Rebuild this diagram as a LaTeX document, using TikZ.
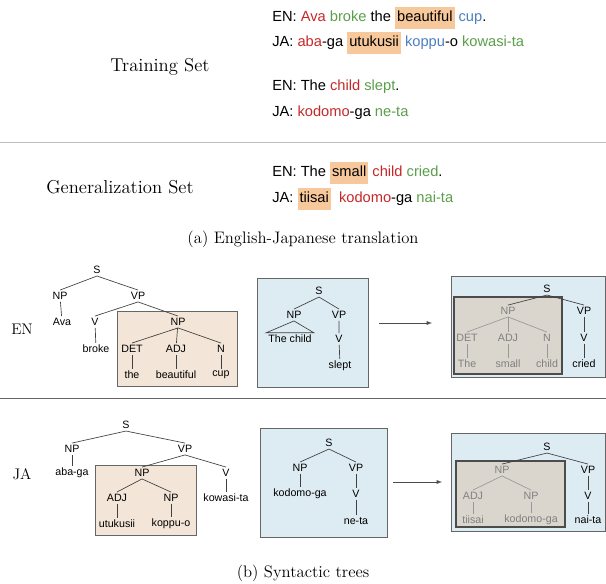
\documentclass[tikz,border=0pt]{standalone}
\usepackage{fontspec}
\setsansfont{Liberation Sans}
\usepackage{xcolor}
\usetikzlibrary{positioning}
\definecolor{wred}{HTML}{C62828}
\definecolor{wgreen}{HTML}{5A9E4A}
\definecolor{wblue}{HTML}{4A7FC0}
\definecolor{hl}{HTML}{F6C89B}
\definecolor{tan}{HTML}{F3E6D8}
\definecolor{sky}{HTML}{DDEBF2}
\definecolor{dusk}{HTML}{DAD6CE}
\newcommand{\R}[1]{\textcolor{wred}{#1}}
\newcommand{\G}[1]{\textcolor{wgreen}{#1}}
\newcommand{\B}[1]{\textcolor{wblue}{#1}}
\newcommand{\HL}[1]{{\setlength{\fboxsep}{1.5pt}\colorbox{hl}{\strut #1}}}
\begin{document}
\begin{tikzpicture}[x=0.75pt, y=-0.75pt,
    tl/.style={font=\sffamily\fontsize{8}{9}\selectfont, inner sep=1.5pt},
    gt/.style={tl, text=gray},
    edge/.style={draw=black!75, line width=0.5pt},
    gedge/.style={draw=gray!80, line width=0.5pt},
    sent/.style={anchor=west, font=\sffamily\fontsize{11}{13}\selectfont, inner sep=0pt},
    setname/.style={font=\fontsize{14}{16}\selectfont},
    box/.style={draw=black!60, line width=0.5pt}]
  \useasboundingbox (0,0) rectangle (606,584);
  % sentences
  \node[setname] (train) at (160,67) {Training Set};
  \node[sent] (en1) at (272,18) {EN: \R{Ava} \G{broke} the \HL{beautiful} \B{cup}.};
  \node[sent] (ja1) at (272,43) {JA: \R{aba}-ga \HL{utukusii} \B{koppu}-o \G{kowasi-ta}};
  \node[sent] (en2) at (272,87) {EN: The \R{child} \G{slept}.};
  \node[sent] (ja2) at (272,113) {JA: \R{kodomo}-ga \G{ne-ta}};
  \draw[black!25] (0,142) -- (606,142);
  \node[setname] (gen) at (120,187) {Generalization Set};
  \node[sent] (en3) at (272,173) {EN: The \HL{small} \R{child} \G{cried}.};
  \node[sent] (ja3) at (272,199) {JA: \HL{tiisai} \ \R{kodomo}-ga \G{nai-ta}};
  \node[font=\fontsize{12.5}{14}\selectfont] (capa) at (303,239) {(a) English-Japanese translation};
  % EN trees
  \node[font=\fontsize{11.5}{13}\selectfont] (enl) at (22,329) {EN};
  \fill[tan] (117,311) rectangle (237,386);
  \draw[box] (117,311) rectangle (237,386);
  \node[tl] (s1) at (97,270) {S};
  \node[tl] (np1) at (60,296) {NP};
  \node[tl] (vp1) at (138,296) {VP};
  \node[tl] (ava) at (62,322) {Ava};
  \node[tl] (v1) at (95,322) {V};
  \node[tl] (broke) at (96,349) {broke};
  \node[tl] (np2) at (178,322) {NP};
  \node[tl] (det1) at (132,349) {DET};
  \node[tl] (adj1) at (176,349) {ADJ};
  \node[tl] (n1) at (221,349) {N};
  \node[tl] (the1) at (132,375) {the};
  \node[tl] (beau) at (176,375) {beautiful};
  \node[tl] (cup) at (221,375) {cup};
  \draw[edge] (np1.north) -- (s1.south) -- (vp1.north);
  \draw[edge] (np1) -- (ava);
  \draw[edge] (v1.north) -- (vp1.south) -- (np2.north);
  \draw[edge] (v1) -- (broke);
  \draw[edge] (det1.north) -- (np2.south) -- (n1.north);
  \draw[edge] (np2) -- (adj1);
  \foreach \a/\b in {det1/the1, adj1/beau, n1/cup} \draw[edge] (\a) -- (\b);
  % middle
  \fill[sky] (257,278) rectangle (368,387);
  \draw[box] (257,278) rectangle (368,387);
  \node[tl] (s2) at (319,291) {S};
  \node[tl] (np3) at (294,315) {NP};
  \node[tl] (vp2) at (339,315) {VP};
  \node[tl] (thechild) at (290,339) {The child};
  \node[tl] (v2) at (339,339) {V};
  \node[tl] (slept) at (340,366) {slept};
  \draw[edge] (np3.north) -- (s2.south) -- (vp2.north);
  \draw[edge] (thechild.north west) -- (np3.south) -- (thechild.north east) -- cycle;
  \draw[edge] (vp2) -- (v2) (v2) -- (slept);
  \draw[->, black!70, >=latex] (379,323) -- (432,323);
  % right
  \fill[sky] (451,276) rectangle (605,377);
  \draw[box] (451,276) rectangle (605,377);
  \fill[dusk] (454,297) rectangle (562,374);
  \draw[box, black!70, line width=0.8pt] (454,297) rectangle (562,374);
  \node[tl] (s3) at (547,289) {S};
  \node[gt] (np4) at (508,311) {NP};
  \node[tl] (vp3) at (584,311) {VP};
  \node[gt] (det2) at (467,338) {DET};
  \node[gt] (adj2) at (508,338) {ADJ};
  \node[gt] (n2) at (547,338) {N};
  \node[gt] (the2) at (467,364) {The};
  \node[gt] (small) at (508,364) {small};
  \node[gt] (child) at (547,364) {child};
  \node[tl] (v3) at (584,338) {V};
  \node[tl] (cried) at (584,364) {cried};
  \draw[edge] (np4.north) -- (s3.south) -- (vp3.north);
  \draw[gedge] (det2.north) -- (np4.south) -- (n2.north);
  \draw[gedge] (np4) -- (adj2);
  \foreach \a/\b in {det2/the2, adj2/small, n2/child} \draw[gedge] (\a) -- (\b);
  \draw[edge] (vp3) -- (v3) (v3) -- (cried);
  \draw[black!60] (0,398) -- (606,398);
  % JA trees
  \node[font=\fontsize{11.5}{13}\selectfont] (jal) at (22,474) {JA};
  \fill[tan] (95,465) rectangle (196,535);
  \draw[box] (95,465) rectangle (196,535);
  \node[tl] (s4) at (126,425) {S};
  \node[tl] (np5) at (72,449) {NP};
  \node[tl] (vp4) at (185,449) {VP};
  \node[tl] (abaga) at (72,473) {aba-ga};
  \node[tl] (np6) at (142,473) {NP};
  \node[tl] (adj3) at (117,498) {ADJ};
  \node[tl] (np7) at (171,498) {NP};
  \node[tl] (utu) at (117,524) {utukusii};
  \node[tl] (kop) at (171,524) {koppu-o};
  \node[tl] (v4) at (226,473) {V};
  \node[tl] (kow) at (226,498) {kowasi-ta};
  \draw[edge] (np5.north) -- (s4.south) -- (vp4.north);
  \draw[edge] (np5) -- (abaga);
  \draw[edge] (np6.north) -- (vp4.south) -- (v4.north);
  \draw[edge] (v4) -- (kow);
  \draw[edge] (adj3.north) -- (np6.south) -- (np7.north);
  \draw[edge] (adj3) -- (utu) (np7) -- (kop);
  % middle
  \fill[sky] (260,428) rectangle (387,537);
  \draw[box] (260,428) rectangle (387,537);
  \node[tl] (s5) at (329,443) {S};
  \node[tl] (np8) at (300,468) {NP};
  \node[tl] (vp5) at (356,468) {VP};
  \node[tl] (kodo) at (300,494) {kodomo-ga};
  \node[tl] (v5) at (356,494) {V};
  \node[tl] (neta) at (356,521) {ne-ta};
  \draw[edge] (np8.north) -- (s5.south) -- (vp5.north);
  \draw[edge] (np8) -- (kodo) (vp5) -- (v5) (v5) -- (neta);
  \draw[->, black!70, >=latex] (393,482) -- (442,482);
  % right
  \fill[sky] (451,433) rectangle (605,531);
  \draw[box] (451,433) rectangle (605,531);
  \fill[dusk] (456,461) rectangle (565,527);
  \draw[box, black!70, line width=0.8pt] (456,461) rectangle (565,527);
  \node[tl] (s6) at (547,447) {S};
  \node[gt] (np9) at (502,470) {NP};
  \node[tl] (vp6) at (588,470) {VP};
  \node[gt] (adj4) at (473,496) {ADJ};
  \node[gt] (np10) at (531,496) {NP};
  \node[gt] (tii) at (473,520) {tiisai};
  \node[gt] (kodo2) at (531,520) {kodomo-ga};
  \node[tl] (v6) at (588,496) {V};
  \node[tl] (naita) at (588,520) {nai-ta};
  \draw[edge] (np9.north) -- (s6.south) -- (vp6.north);
  \draw[gedge] (adj4.north) -- (np9.south) -- (np10.north);
  \draw[gedge] (adj4) -- (tii) (np10) -- (kodo2);
  \draw[edge] (vp6) -- (v6) (v6) -- (naita);
  \node[font=\fontsize{12.5}{14}\selectfont] (capb) at (303,573) {(b) Syntactic trees};
\end{tikzpicture}
\end{document}
